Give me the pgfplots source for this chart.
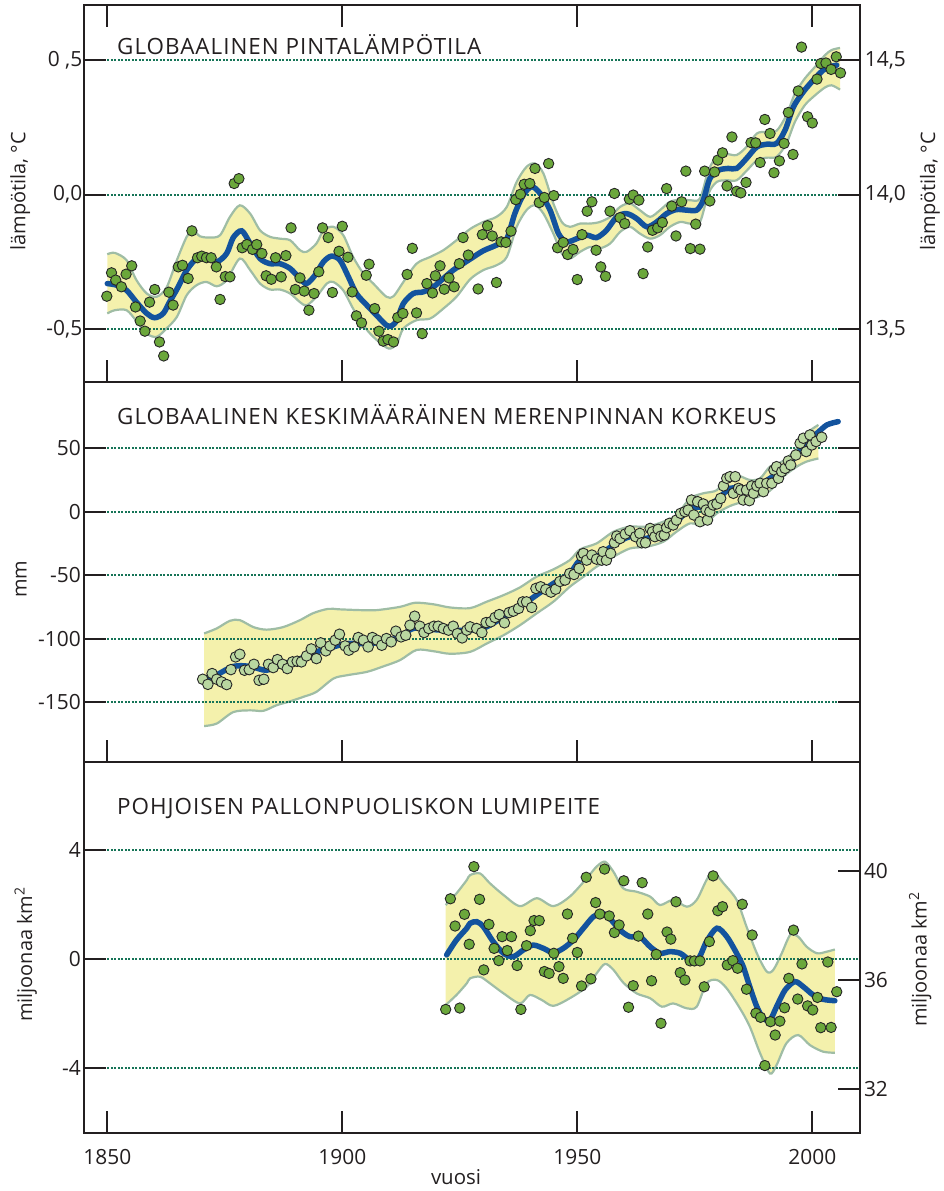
\documentclass[border=0pt]{standalone}
\usepackage{fontspec}
\setmainfont{Open Sans}
\newfontfamily\titlefont[LetterSpace=4.5]{Open Sans}
\usepackage{pgfplots}
\usepackage{pgfplotstable}
\pgfplotsset{compat=1.18}
\usepgfplotslibrary{fillbetween}

\definecolor{txt}{HTML}{231F20}
\definecolor{bandfill}{HTML}{F4F1AC}
\definecolor{bandedge}{HTML}{9FBDA5}
\definecolor{blueline}{HTML}{13539E}
\definecolor{dotgreen}{HTML}{6BA73B}
\definecolor{dotpale}{HTML}{B9D7A0}
\definecolor{gridgreen}{HTML}{167457}

% ---------------- Panel 1: temperature ----------------
\pgfplotstableread{
x y
1849.9 -0.378
1850.9 -0.291
1851.8 -0.318
1853.0 -0.343
1854.0 -0.296
1855.2 -0.265
1856.0 -0.418
1857.0 -0.470
1858.0 -0.508
1859.0 -0.400
1860.1 -0.353
1861.1 -0.548
1862.0 -0.600
1863.1 -0.363
1864.0 -0.411
1865.1 -0.269
1866.0 -0.263
1867.2 -0.312
1868.0 -0.135
1869.2 -0.235
1870.1 -0.229
1871.1 -0.235
1872.1 -0.235
1873.2 -0.269
1874.0 -0.390
1875.1 -0.305
1876.1 -0.306
1877.0 0.041
1878.0 0.059
1878.7 -0.198
1879.7 -0.186
1880.9 -0.204
1881.8 -0.186
1882.9 -0.219
1883.8 -0.302
1884.9 -0.315
1885.8 -0.235
1887.0 -0.306
1888.0 -0.227
1889.1 -0.124
1890.0 -0.353
1891.0 -0.310
1891.9 -0.359
1892.9 -0.430
1894.0 -0.368
1895.0 -0.287
1895.8 -0.124
1897.0 -0.160
1897.9 -0.364
1899.3 -0.211
1900.0 -0.118
1901.2 -0.233
1902.1 -0.362
1903.0 -0.451
1904.1 -0.477
1905.1 -0.300
1905.7 -0.259
1906.9 -0.424
1907.8 -0.508
1908.7 -0.545
1909.7 -0.539
1910.9 -0.548
1911.8 -0.457
1912.9 -0.442
1913.8 -0.297
1914.9 -0.200
1915.8 -0.440
1917.0 -0.517
1918.0 -0.331
1919.2 -0.366
1919.8 -0.302
1920.8 -0.265
1921.7 -0.352
1922.7 -0.310
1923.8 -0.343
1924.9 -0.257
1925.7 -0.160
1926.8 -0.225
1928.9 -0.351
1929.8 -0.149
1930.9 -0.116
1931.9 -0.154
1932.8 -0.327
1933.8 -0.176
1934.8 -0.178
1935.9 -0.136
1936.9 -0.019
1937.9 0.001
1938.7 0.038
1939.9 0.041
1941.0 0.097
1941.9 -0.030
1943.0 -0.011
1943.9 0.115
1945.0 -0.004
1945.8 -0.198
1947.0 -0.178
1947.95 -0.223
1949.1 -0.204
1950.0 -0.316
1951.0 -0.149
1952.1 -0.062
1953.1 -0.027
1954.0 -0.207
1955.0 -0.269
1956.0 -0.304
1956.96 -0.062
1957.9 0.004
1959.1 -0.086
1960.1 -0.108
1961.07 -0.017
1961.9 -0.002
1963.1 -0.021
1964.0 -0.294
1965.0 -0.195
1966.0 -0.133
1967.1 -0.124
1968.1 -0.104
1969.0 0.022
1970.1 -0.043
1971.0 -0.154
1972.2 -0.027
1973.1 0.087
1974.05 -0.201
1975.2 -0.110
1976.1 -0.203
1977.1 0.087
1978.2 -0.024
1979.2 0.084
1979.9 0.128
1980.9 0.155
1981.85 0.032
1982.9 0.214
1983.9 0.012
1984.8 0.006
1985.9 0.045
1986.96 0.193
1987.95 0.192
1988.9 0.119
1989.9 0.279
1991.0 0.227
1991.85 0.081
1993.0 0.125
1994.0 0.190
1994.9 0.305
1995.9 0.149
1997.0 0.385
1997.7 0.548
1999.0 0.289
2000.0 0.266
2001.0 0.429
2001.8 0.487
2002.9 0.489
2004.0 0.465
2005.1 0.512
2006.0 0.452
}\TempPts

\pgfplotstableread{
x y
1850.0 -0.331
1852.0 -0.337
1854.1 -0.356
1856.2 -0.400
1858.4 -0.442
1860.1 -0.458
1861.9 -0.442
1863.3 -0.398
1865.1 -0.343
1866.9 -0.281
1869.0 -0.238
1871.1 -0.232
1873.3 -0.250
1875.4 -0.219
1876.8 -0.160
1878.6 -0.135
1880.4 -0.182
1882.5 -0.238
1884.6 -0.257
1886.7 -0.257
1888.9 -0.275
1891.0 -0.312
1892.4 -0.331
1894.2 -0.300
1896.0 -0.250
1897.7 -0.229
1899.5 -0.244
1901.3 -0.306
1903.0 -0.368
1905.2 -0.411
1907.3 -0.449
1909.4 -0.486
1910.5 -0.488
1911.6 -0.467
1913.0 -0.405
1915.1 -0.368
1917.2 -0.362
1919.4 -0.343
1921.5 -0.312
1923.6 -0.281
1925.7 -0.257
1927.2 -0.240
1930.0 -0.209
1932.8 -0.188
1935.0 -0.164
1936.7 -0.071
1938.5 -0.002
1940.3 0.029
1942.1 0.004
1944.2 -0.058
1946.0 -0.145
1947.7 -0.176
1949.9 -0.164
1952.0 -0.151
1954.1 -0.160
1956.2 -0.133
1958.4 -0.083
1960.5 -0.071
1962.6 -0.089
1964.8 -0.120
1966.9 -0.102
1969.0 -0.071
1971.1 -0.056
1973.3 -0.058
1975.4 -0.058
1976.8 -0.021
1978.2 0.059
1980.0 0.090
1982.1 0.097
1983.9 0.097
1986.0 0.134
1988.2 0.177
1990.3 0.187
1992.4 0.190
1994.2 0.239
1996.0 0.326
1998.1 0.382
2000.2 0.425
2002.3 0.462
2003.8 0.475
2005.2 0.481
}\TempLine

\pgfplotstableread{
x y
1850.0 -0.222
1851.6 -0.217
1854.1 -0.244
1856.2 -0.318
1858.4 -0.368
1860.5 -0.380
1862.6 -0.346
1864.8 -0.244
1866.9 -0.157
1868.3 -0.133
1869.7 -0.155
1871.8 -0.160
1874.0 -0.151
1876.1 -0.083
1878.2 -0.040
1880.4 -0.071
1882.5 -0.133
1884.6 -0.157
1886.7 -0.164
1888.9 -0.170
1891.0 -0.207
1892.4 -0.213
1894.5 -0.182
1896.0 -0.133
1898.1 -0.120
1900.2 -0.151
1902.3 -0.232
1904.5 -0.294
1906.6 -0.331
1909.4 -0.380
1910.9 -0.378
1913.0 -0.325
1915.8 -0.257
1918.7 -0.232
1921.5 -0.207
1924.3 -0.170
1927.2 -0.128
1930.0 -0.102
1932.8 -0.083
1935.0 -0.046
1937.1 0.047
1939.2 0.103
1941.0 0.115
1942.8 0.078
1944.9 -0.033
1946.7 -0.102
1948.4 -0.120
1950.6 -0.108
1952.7 -0.108
1954.8 -0.102
1957.0 -0.083
1959.1 -0.046
1961.2 -0.033
1963.3 -0.058
1965.5 -0.083
1967.6 -0.058
1969.7 -0.027
1971.9 -0.019
1974.0 -0.021
1976.1 -0.015
1977.9 0.090
1979.7 0.140
1981.8 0.150
1983.9 0.147
1986.0 0.177
1988.2 0.227
1990.3 0.233
1992.4 0.237
1994.5 0.295
1996.3 0.375
1998.4 0.431
2000.6 0.475
2002.7 0.518
2004.1 0.537
2005.9 0.545
}\TempHi

\pgfplotstableread{
x y
1850.0 -0.442
1851.6 -0.430
1854.1 -0.430
1856.2 -0.470
1858.4 -0.517
1860.5 -0.529
1862.6 -0.498
1864.8 -0.455
1866.9 -0.374
1869.0 -0.337
1871.1 -0.325
1873.3 -0.341
1875.4 -0.318
1878.2 -0.238
1880.4 -0.281
1882.5 -0.331
1884.6 -0.353
1886.7 -0.353
1888.9 -0.368
1891.0 -0.400
1892.4 -0.412
1894.5 -0.380
1896.7 -0.331
1898.1 -0.325
1900.2 -0.356
1902.3 -0.424
1904.5 -0.486
1906.6 -0.529
1909.8 -0.572
1911.6 -0.554
1913.0 -0.498
1915.8 -0.467
1918.7 -0.461
1921.5 -0.424
1924.3 -0.380
1927.2 -0.315
1930.0 -0.281
1932.8 -0.263
1935.0 -0.232
1937.1 -0.120
1939.2 -0.058
1941.0 -0.040
1942.8 -0.071
1944.9 -0.145
1946.7 -0.219
1948.4 -0.238
1950.6 -0.213
1952.7 -0.195
1954.8 -0.200
1957.0 -0.182
1959.1 -0.139
1961.2 -0.120
1963.3 -0.145
1965.5 -0.164
1967.6 -0.151
1969.7 -0.120
1971.9 -0.102
1974.0 -0.108
1976.1 -0.102
1977.9 0.004
1979.7 0.047
1981.8 0.053
1983.9 0.053
1986.0 0.088
1988.2 0.127
1990.3 0.137
1992.4 0.140
1994.5 0.190
1996.3 0.270
1998.4 0.332
2000.6 0.369
2002.7 0.398
2004.1 0.406
2005.9 0.390
}\TempLo

% ---------------- Panel 2: sea level ----------------
\pgfplotstableread{
x y
1870.3 -132.1
1871.4 -136.1
1872.3 -127.6
1873.3 -132.1
1874.3 -134.2
1875.4 -136.3
1876.3 -124.5
1877.3 -114.5
1878.2 -112.4
1879.2 -125.0
1880.2 -124.5
1881.2 -120.3
1882.3 -132.9
1883.3 -132.1
1884.3 -120.3
1885.3 -122.9
1886.2 -116.6
1887.3 -120.3
1888.3 -123.7
1889.4 -118.4
1890.4 -117.9
1891.3 -118.4
1892.4 -113.7
1893.4 -108.2
1894.5 -115.8
1895.4 -103.4
1896.5 -109.7
1897.4 -105.8
1898.5 -101.3
1899.4 -96.6
1900.6 -105.8
1901.4 -109.2
1902.5 -106.6
1903.4 -99.2
1904.5 -101.3
1905.5 -106.6
1906.4 -99.2
1907.4 -101.3
1908.4 -105.3
1909.4 -100.0
1910.4 -102.6
1911.4 -94.2
1912.5 -98.7
1913.5 -97.4
1914.4 -89.5
1915.4 -82.4
1916.5 -90.3
1917.4 -95.3
1918.4 -92.1
1919.5 -90.3
1920.4 -90.3
1921.5 -92.1
1922.6 -93.4
1923.6 -90.3
1924.5 -96.1
1925.5 -99.5
1926.5 -93.4
1927.2 -90.8
1928.6 -92.1
1929.7 -95.3
1930.6 -87.4
1931.6 -86.8
1932.5 -83.4
1933.4 -81.1
1934.5 -87.6
1935.5 -79.5
1936.4 -78.4
1937.5 -76.3
1938.4 -71.1
1939.2 -71.1
1940.3 -75.5
1941.2 -60.5
1942.2 -59.2
1943.3 -61.3
1944.4 -63.4
1945.4 -61.1
1946.3 -55.0
1947.4 -53.9
1948.4 -48.7
1949.3 -49.5
1950.4 -44.7
1950.9 -35.0
1951.3 -32.9
1952.0 -38.2
1953.1 -34.2
1954.1 -37.4
1955.2 -38.2
1955.5 -31.6
1956.2 -38.2
1957.1 -32.9
1957.9 -24.5
1958.4 -19.2
1959.1 -21.1
1960.2 -17.6
1961.2 -15.0
1962.4 -19.7
1963.3 -17.1
1963.7 -24.5
1964.5 -24.5
1965.5 -13.2
1966.0 -15.8
1966.5 -19.7
1967.2 -13.9
1967.8 -19.2
1968.5 -18.4
1969.0 -12.6
1969.6 -9.2
1970.4 -10.5
1971.1 -6.6
1972.0 -1.3
1972.9 0.0
1973.6 1.3
1974.3 9.2
1974.8 -2.6
1975.6 7.9
1976.1 -7.9
1976.8 6.1
1977.4 1.3
1977.7 -6.6
1978.2 0.0
1978.9 5.3
1979.7 6.1
1980.5 10.5
1981.1 20.3
1981.8 26.3
1982.5 27.6
1983.2 14.5
1983.6 27.6
1984.3 18.4
1984.8 17.1
1985.3 9.2
1986.0 17.1
1986.6 8.7
1987.1 20.3
1987.5 14.5
1988.2 20.3
1988.9 22.4
1989.6 15.8
1990.3 22.4
1991.4 22.4
1991.85 32.9
1992.4 35.5
1992.8 26.3
1993.5 31.6
1994.2 34.2
1994.9 40.0
1995.4 36.8
1996.5 44.7
1997.4 53.9
1998.1 57.9
1998.7 47.4
1999.5 60.5
1999.9 52.6
2000.8 55.3
2002.0 58.7
}\SeaPts

\pgfplotstableread{
x y
1870.8 -131.0
1872.6 -130.0
1876.8 -122.0
1880.4 -122.0
1883.9 -125.0
1887.4 -120.0
1891.0 -116.0
1894.5 -110.5
1898.1 -106.6
1900.9 -104.0
1905.2 -104.0
1908.7 -102.6
1912.3 -98.7
1915.1 -92.0
1919.4 -93.0
1922.9 -93.4
1927.2 -93.4
1930.7 -90.8
1934.3 -82.9
1937.8 -75.0
1941.3 -65.8
1944.9 -56.6
1948.4 -48.7
1950.6 -38.2
1954.1 -35.5
1957.7 -26.3
1961.2 -19.7
1964.8 -21.0
1968.3 -14.5
1971.1 -7.9
1974.0 2.6
1976.8 3.9
1979.7 9.2
1982.5 18.4
1985.3 17.6
1988.2 19.7
1991.0 26.3
1993.8 33.4
1996.7 44.7
1998.8 55.3
2001.0 61.8
2003.1 68.4
2005.5 71.0
}\SeaLine

\pgfplotstableread{
x y
1870.6 -96.0
1873.3 -92.0
1876.1 -86.0
1878.2 -85.5
1881.1 -91.0
1883.9 -93.0
1887.4 -91.0
1891.0 -85.5
1893.8 -80.0
1897.0 -76.6
1899.5 -77.0
1903.8 -77.6
1907.3 -77.6
1912.3 -75.0
1915.5 -71.8
1919.4 -73.0
1922.9 -75.5
1927.2 -76.0
1930.7 -71.0
1934.3 -65.8
1937.8 -59.7
1941.3 -51.3
1944.9 -45.5
1948.4 -38.2
1950.6 -29.7
1954.1 -25.0
1957.7 -15.8
1961.2 -11.8
1964.8 -11.8
1968.3 -7.9
1971.1 -2.6
1974.0 10.5
1976.8 14.5
1979.7 17.0
1981.8 27.6
1983.9 29.0
1986.7 25.0
1988.9 26.3
1991.0 35.5
1993.8 40.0
1996.7 50.0
1998.8 61.8
2001.3 68.4
}\SeaHi

\pgfplotstableread{
x y
1870.6 -169.0
1873.3 -167.0
1876.8 -158.0
1880.4 -156.6
1883.2 -157.0
1886.0 -152.6
1888.9 -149.5
1891.7 -146.0
1894.5 -142.0
1898.1 -131.6
1900.9 -129.0
1905.2 -126.3
1908.7 -122.0
1912.3 -117.0
1915.8 -109.0
1919.4 -110.0
1922.9 -112.0
1927.2 -110.5
1930.7 -104.0
1934.3 -97.4
1937.8 -89.5
1941.3 -80.3
1944.9 -71.0
1948.4 -59.2
1951.3 -51.3
1954.1 -43.4
1957.7 -35.5
1961.2 -29.0
1964.8 -27.6
1968.3 -23.7
1971.1 -15.8
1974.0 -9.2
1976.8 -10.5
1979.7 -1.3
1982.5 4.5
1985.3 7.9
1988.2 11.3
1991.0 16.6
1993.8 27.6
1996.7 35.5
1998.8 39.5
2001.3 42.0
}\SeaLo

% ---------------- Panel 3: snow cover ----------------
\pgfplotstableread{
x y
1922.0 -1.85
1923.0 2.21
1924.0 1.21
1925.0 -1.80
1926.0 1.64
1927.0 0.54
1928.0 3.39
1929.2 2.19
1930.1 -0.40
1931.2 1.27
1932.3 0.39
1933.3 -0.06
1934.0 0.82
1935.1 0.31
1936.0 0.82
1937.2 -0.24
1938.0 -1.85
1939.2 0.49
1940.0 1.04
1940.8 1.41
1941.9 1.41
1943.0 -0.46
1944.0 -0.53
1945.0 0.21
1946.1 -0.28
1947.0 -0.71
1947.9 1.65
1949.0 0.76
1950.0 0.24
1950.9 -0.99
1951.9 3.00
1952.9 -0.73
1953.9 2.07
1954.8 1.65
1955.8 3.30
1956.8 1.58
1957.9 0.97
1958.9 1.25
1959.9 2.87
1960.9 -1.77
1961.9 -0.98
1963.0 0.84
1963.8 2.80
1965.0 1.65
1965.8 -0.80
1966.8 0.17
1967.8 -2.36
1969.1 0.99
1969.9 0.73
1971.0 2.10
1971.9 -0.50
1972.9 -0.77
1974.0 -0.07
1974.9 -0.07
1976.1 -0.07
1977.0 -1.02
1978.1 0.64
1978.9 3.05
1979.9 1.77
1980.9 1.92
1981.9 -0.22
1983.1 -0.06
1984.1 -0.34
1985.1 2.01
1986.0 -1.11
1987.2 0.88
1988.0 -1.99
1989.0 -2.14
1989.9 -3.91
1991.1 -2.30
1992.1 -2.79
1993.1 -2.28
1994.1 -1.79
1995.0 -0.71
1996.0 1.06
1996.9 -1.47
1997.8 -0.18
1999.0 -1.72
2000.1 -1.87
2001.1 -1.41
2001.8 -2.52
2003.3 -0.11
2004.0 -2.51
2005.2 -1.20
}\SnowPts

\pgfplotstableread{
x y
1922.2 0.15
1924.3 0.70
1926.5 1.13
1927.2 1.31
1928.6 1.37
1930.0 1.19
1932.1 0.64
1934.3 0.21
1936.4 0.09
1938.5 0.33
1940.6 0.51
1942.8 0.39
1944.9 0.23
1947.0 0.39
1949.2 0.70
1951.3 1.13
1953.4 1.55
1955.2 1.68
1956.9 1.49
1959.1 1.06
1961.2 0.82
1963.3 0.82
1965.5 0.45
1967.6 0.21
1969.7 0.27
1971.9 0.21
1974.0 -0.04
1975.8 0.02
1977.5 0.64
1979.7 1.13
1981.8 0.82
1983.9 0.21
1985.3 -0.28
1986.7 -1.02
1988.2 -1.75
1989.6 -2.18
1991.0 -2.24
1992.4 -1.75
1994.2 -1.14
1996.3 -0.83
1998.1 -1.02
2000.2 -1.32
2002.3 -1.48
2004.8 -1.53
}\SnowLine

\pgfplotstableread{
x y
1922.0 1.98
1924.3 2.41
1926.5 2.90
1927.2 3.08
1929.3 3.14
1931.4 2.78
1934.3 2.35
1937.8 1.94
1941.4 2.23
1944.9 1.94
1948.4 2.29
1952.0 2.96
1954.1 3.39
1955.9 3.57
1957.7 3.20
1959.8 2.59
1962.6 2.47
1965.5 2.29
1967.6 1.98
1970.4 2.17
1973.3 1.92
1975.4 2.17
1977.5 2.90
1978.9 3.20
1981.1 2.78
1983.9 2.17
1986.0 1.19
1988.2 0.21
1990.3 -0.46
1991.7 -0.40
1993.5 0.21
1995.3 0.88
1997.0 0.82
1998.8 0.45
2001.0 0.21
2003.1 0.27
2004.8 0.35
}\SnowHi

\pgfplotstableread{
x y
1922.0 -1.69
1924.3 -1.32
1926.5 -0.89
1927.2 -0.71
1929.3 -0.65
1931.4 -0.89
1934.3 -1.26
1937.8 -1.63
1939.9 -1.32
1942.4 -1.50
1944.9 -1.72
1948.4 -1.44
1952.0 -1.02
1954.1 -0.53
1955.9 -0.18
1957.7 -0.40
1959.8 -0.87
1962.6 -1.26
1965.5 -1.44
1968.0 -1.75
1970.4 -1.63
1973.3 -1.81
1975.4 -1.75
1977.5 -0.89
1979.7 -0.77
1981.8 -1.08
1984.6 -1.81
1986.7 -2.48
1988.9 -3.46
1991.0 -4.20
1992.4 -3.89
1994.5 -3.09
1997.0 -2.79
1999.5 -3.16
2002.3 -3.40
2004.8 -3.44
}\SnowLo

\tikzset{griddot/.style={gridgreen, line width=2bp, dash pattern=on 1.8bp off 1.7bp}}
\pgfplotsset{
  panel/.style={
    scale only axis, width=775.7bp, xmin=1845.11, xmax=2010.15, anchor=north west,
    axis line style={line width=2.2bp, draw=txt},
    tick style={line width=2bp, color=txt},
    major tick length=22bp, tick align=inside,
    xtick={1850,1900,1950,2000}, minor tick num=0,
    ticklabel style={font=\fontsize{21}{25}\selectfont, text=txt},
    xticklabel style={yshift=-12.2bp},
  },
  band/.style={draw=none, smooth},
  edge/.style={bandedge, line width=2.2bp, smooth},
  mainline/.style={blueline, line width=5.5bp, smooth, line cap=round},
  dots/.style={only marks, mark=*, mark size=5.2bp,
    mark options={fill=dotgreen, draw=black!85, line width=0.9bp}},
  palepts/.style={only marks, mark=*, mark size=5.3bp,
    mark options={fill=dotpale, draw=black!85, line width=0.9bp}},
}

\begin{document}
\begin{tikzpicture}

% ===== Panel 1 =====
\begin{axis}[panel, at={(84.3bp,-4.7bp)}, height=377.6bp,
  ymin=-0.698, ymax=0.7056,
  xtick pos=both, xticklabels=\empty,
  ytick={-0.5,0,0.5}, yticklabels={{-0,5},{0,0},{0 ,5}},
  ytick pos=left, yticklabel style={xshift=1.5bp}]
\addplot[name path=thi, band] table[x=x,y=y]{\TempHi};
\addplot[name path=tlo, band] table[x=x,y=y]{\TempLo};
\addplot[bandfill, draw=none] fill between[of=thi and tlo];
\addplot[edge] table[x=x,y=y]{\TempHi};
\addplot[edge] table[x=x,y=y]{\TempLo};
\draw[griddot] (1850,0.5) -- (2005.2,0.5);
\draw[griddot] (1850,0) -- (2005.2,0);
\draw[griddot] (1850,-0.5) -- (2005.2,-0.5);
\addplot[mainline] table[x=x,y=y]{\TempLine};
\addplot[dots] table[x=x,y=y]{\TempPts};
\end{axis}
\begin{axis}[panel, at={(84.3bp,-4.7bp)}, height=377.6bp,
  ymin=13.302, ymax=14.7056, xtick=\empty,
  ytick={13.5,14,14.5}, yticklabels={{13,5},{14,0},{14,5}},
  ytick pos=right, yticklabel pos=right, yticklabel style={xshift=1.3bp}]
\end{axis}

% ===== Panel 2 =====
\begin{axis}[panel, at={(84.3bp,-382.3bp)}, height=379.4bp,
  ymin=-197.1, ymax=102.0,
  xtick pos=left, xticklabels=\empty,
  ytick={-150,-100,-50,0,50}, yticklabels={{-150},{-100},{-50},{0},{50}},
  ytick pos=both, yticklabel pos=left]
\addplot[name path=shi, band] table[x=x,y=y]{\SeaHi};
\addplot[name path=slo, band] table[x=x,y=y]{\SeaLo};
\addplot[bandfill, draw=none] fill between[of=shi and slo];
\addplot[edge] table[x=x,y=y]{\SeaHi};
\addplot[edge] table[x=x,y=y]{\SeaLo};
\draw[griddot] (1850,50) -- (2005.2,50);
\draw[griddot] (1850,0) -- (2005.2,0);
\draw[griddot] (1850,-50) -- (2005.2,-50);
\draw[griddot] (1850,-100) -- (2005.2,-100);
\draw[griddot] (1850,-150) -- (2005.2,-150);
\addplot[mainline] table[x=x,y=y]{\SeaLine};
\addplot[palepts] table[x=x,y=y]{\SeaPts};
\end{axis}

% ===== Panel 3 =====
\begin{axis}[panel, at={(84.3bp,-761.7bp)}, height=371.6bp,
  ymin=-6.396, ymax=7.24,
  xtick pos=left, xticklabels={1850,1900,1950,2000},
  ytick={-4,0,4}, yticklabels={{-4},{0},{4}},
  ytick pos=left]
\addplot[name path=nhi, band] table[x=x,y=y]{\SnowHi};
\addplot[name path=nlo, band] table[x=x,y=y]{\SnowLo};
\addplot[bandfill, draw=none] fill between[of=nhi and nlo];
\addplot[edge] table[x=x,y=y]{\SnowHi};
\addplot[edge] table[x=x,y=y]{\SnowLo};
\draw[griddot] (1850,4) -- (2010.15,4);
\draw[griddot] (1850,0) -- (2010.15,0);
\draw[griddot] (1850,-4) -- (2010.15,-4);
\addplot[mainline] table[x=x,y=y]{\SnowLine};
\addplot[dots] table[x=x,y=y]{\SnowPts};
\end{axis}
\begin{axis}[panel, at={(84.3bp,-761.7bp)}, height=371.6bp,
  ymin=30.375, ymax=44.011, xtick=\empty,
  ytick={32,36,40}, yticklabels={{32},{36},{40}},
  ytick pos=right, yticklabel pos=right, yticklabel style={xshift=0.5bp}]
\end{axis}

% ===== Texts =====
\begin{scope}[every node/.style={text=txt, inner sep=0pt}]
\node[anchor=base west, font=\titlefont\fontsize{22.5}{27}\selectfont] at (117bp,-54.3bp) {GLOBAALINEN PINTALÄMPÖTILA};
\node[anchor=base west, font=\titlefont\fontsize{22.5}{27}\selectfont] at (117bp,-424.3bp) {GLOBAALINEN KESKIMÄÄRÄINEN MERENPINNAN KORKEUS};
\node[anchor=base west, font=\titlefont\fontsize{22.5}{27}\selectfont] at (117bp,-814.3bp) {POHJOISEN PALLONPUOLISKON LUMIPEITE};
\node[rotate=90, anchor=base, font=\fontsize{20}{24}\selectfont] at (25.3bp,-191.5bp) {lämpötila, °C};
\node[rotate=90, anchor=base, font=\fontsize{20}{24}\selectfont] at (935bp,-191.5bp) {lämpötila, °C};
\node[rotate=90, anchor=base, font=\fontsize{20}{24}\selectfont] at (26.7bp,-579bp) {mm};
\node[rotate=90, anchor=base, font=\fontsize{20}{24}\selectfont] at (32bp,-954.5bp) {miljoonaa km\textsuperscript{2}};
\node[rotate=90, anchor=base, font=\fontsize{20}{24}\selectfont] at (926.5bp,-959.5bp) {miljoonaa km\textsuperscript{2}};
\node[anchor=base, font=\fontsize{20.5}{24}\selectfont] at (456bp,-1184bp) {vuosi};
\end{scope}
\pgfresetboundingbox
\path[use as bounding box] (0,0) rectangle (944bp,-1191bp);
\end{tikzpicture}
\end{document}
